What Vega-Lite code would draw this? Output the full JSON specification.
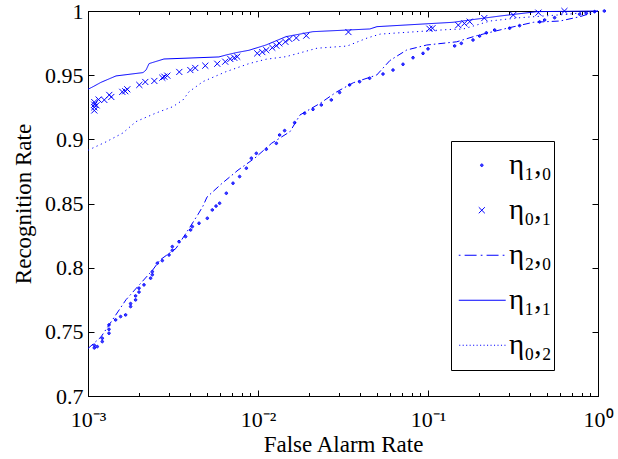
{
  "$schema": "https://vega.github.io/schema/vega-lite/v6.json",
  "width": 510,
  "height": 385,
  "autosize": {"type": "none"},
  "padding": {"left": 88, "top": 11, "right": 20, "bottom": 63},
  "background": "white",
  "config": {
    "view": {"stroke": "black", "strokeWidth": 1},
    "font": "Liberation Serif, Times New Roman, Times, serif",
    "axis": {"grid": false, "domainColor": "black", "tickColor": "black", "labelColor": "black", "titleColor": "black", "labelFont": "Liberation Serif, Times New Roman, Times, serif", "titleFont": "Liberation Serif, Times New Roman, Times, serif", "titleFontWeight": "normal", "domainWidth": 1, "tickWidth": 1},
    "legend": {"labelFont": "Liberation Serif, Times New Roman, Times, serif"}
  },
  "datasets": {
    "pts": [
      {"s": "η₀,₁", "x": 0.001, "y": 0.9225},
      {"s": "η₀,₁", "x": 0.001, "y": 0.925},
      {"s": "η₀,₁", "x": 0.001, "y": 0.927},
      {"s": "η₀,₁", "x": 0.001, "y": 0.929},
      {"s": "η₀,₁", "x": 0.00103, "y": 0.9265},
      {"s": "η₀,₁", "x": 0.00106, "y": 0.931},
      {"s": "η₀,₁", "x": 0.001145, "y": 0.9307},
      {"s": "η₀,₁", "x": 0.001225, "y": 0.9346},
      {"s": "η₀,₁", "x": 0.001259, "y": 0.933},
      {"s": "η₀,₁", "x": 0.001461, "y": 0.937},
      {"s": "η₀,₁", "x": 0.001521, "y": 0.9375},
      {"s": "η₀,₁", "x": 0.001563, "y": 0.939},
      {"s": "η₀,₁", "x": 0.00184, "y": 0.9424},
      {"s": "η₀,₁", "x": 0.001995, "y": 0.9447},
      {"s": "η₀,₁", "x": 0.002255, "y": 0.9455},
      {"s": "η₀,₁", "x": 0.002512, "y": 0.948},
      {"s": "η₀,₁", "x": 0.002582, "y": 0.9488},
      {"s": "η₀,₁", "x": 0.002689, "y": 0.9496},
      {"s": "η₀,₁", "x": 0.003162, "y": 0.9525},
      {"s": "η₀,₁", "x": 0.003672, "y": 0.954},
      {"s": "η₀,₁", "x": 0.003925, "y": 0.9556},
      {"s": "η₀,₁", "x": 0.004497, "y": 0.9574},
      {"s": "η₀,₁", "x": 0.005288, "y": 0.9589},
      {"s": "η₀,₁", "x": 0.00589, "y": 0.9605},
      {"s": "η₀,₁", "x": 0.00631, "y": 0.9626},
      {"s": "η₀,₁", "x": 0.00666, "y": 0.9635},
      {"s": "η₀,₁", "x": 0.00693, "y": 0.9644},
      {"s": "η₀,₁", "x": 0.00909, "y": 0.967},
      {"s": "η₀,₁", "x": 0.00973, "y": 0.968},
      {"s": "η₀,₁", "x": 0.01027, "y": 0.9695},
      {"s": "η₀,₁", "x": 0.01114, "y": 0.9714},
      {"s": "η₀,₁", "x": 0.01177, "y": 0.973},
      {"s": "η₀,₁", "x": 0.01225, "y": 0.9748},
      {"s": "η₀,₁", "x": 0.0133, "y": 0.976},
      {"s": "η₀,₁", "x": 0.01404, "y": 0.9782},
      {"s": "η₀,₁", "x": 0.01543, "y": 0.979},
      {"s": "η₀,₁", "x": 0.01766, "y": 0.9808},
      {"s": "η₀,₁", "x": 0.03124, "y": 0.9836},
      {"s": "η₀,₁", "x": 0.09357, "y": 0.9862},
      {"s": "η₀,₁", "x": 0.09757, "y": 0.9866},
      {"s": "η₀,₁", "x": 0.1384, "y": 0.989},
      {"s": "η₀,₁", "x": 0.1503, "y": 0.9903},
      {"s": "η₀,₁", "x": 0.1615, "y": 0.9917},
      {"s": "η₀,₁", "x": 0.1968, "y": 0.9945},
      {"s": "η₀,₁", "x": 0.2915, "y": 0.9969},
      {"s": "η₀,₁", "x": 0.4096, "y": 0.9987},
      {"s": "η₀,₁", "x": 0.5827, "y": 1.0},
      {"s": "η₁,₀", "x": 0.001, "y": 0.7375},
      {"s": "η₁,₀", "x": 0.001, "y": 0.7395},
      {"s": "η₁,₀", "x": 0.001041, "y": 0.7385},
      {"s": "η₁,₀", "x": 0.001114, "y": 0.7424},
      {"s": "η₁,₀", "x": 0.001114, "y": 0.745},
      {"s": "η₁,₀", "x": 0.00122, "y": 0.7489},
      {"s": "η₁,₀", "x": 0.00122, "y": 0.752},
      {"s": "η₁,₀", "x": 0.00122, "y": 0.7554},
      {"s": "η₁,₀", "x": 0.001335, "y": 0.7593},
      {"s": "η₁,₀", "x": 0.001428, "y": 0.7619},
      {"s": "η₁,₀", "x": 0.001528, "y": 0.7632},
      {"s": "η₁,₀", "x": 0.001635, "y": 0.7697},
      {"s": "η₁,₀", "x": 0.001635, "y": 0.772},
      {"s": "η₁,₀", "x": 0.001749, "y": 0.7749},
      {"s": "η₁,₀", "x": 0.001749, "y": 0.778},
      {"s": "η₁,₀", "x": 0.001832, "y": 0.781},
      {"s": "η₁,₀", "x": 0.001832, "y": 0.784},
      {"s": "η₁,₀", "x": 0.00196, "y": 0.7866},
      {"s": "η₁,₀", "x": 0.002144, "y": 0.7918},
      {"s": "η₁,₀", "x": 0.002194, "y": 0.7945},
      {"s": "η₁,₀", "x": 0.002194, "y": 0.7969},
      {"s": "η₁,₀", "x": 0.002348, "y": 0.8035},
      {"s": "η₁,₀", "x": 0.002512, "y": 0.8055},
      {"s": "η₁,₀", "x": 0.002751, "y": 0.8099},
      {"s": "η₁,₀", "x": 0.002877, "y": 0.8135},
      {"s": "η₁,₀", "x": 0.002877, "y": 0.8164},
      {"s": "η₁,₀", "x": 0.003149, "y": 0.8203},
      {"s": "η₁,₀", "x": 0.003444, "y": 0.8242},
      {"s": "η₁,₀", "x": 0.003686, "y": 0.8294},
      {"s": "η₁,₀", "x": 0.003772, "y": 0.832},
      {"s": "η₁,₀", "x": 0.00413, "y": 0.8346},
      {"s": "η₁,₀", "x": 0.00462, "y": 0.8385},
      {"s": "η₁,₀", "x": 0.004944, "y": 0.845},
      {"s": "η₁,₀", "x": 0.0052, "y": 0.848},
      {"s": "η₁,₀", "x": 0.005459, "y": 0.8502},
      {"s": "η₁,₀", "x": 0.005977, "y": 0.858},
      {"s": "η₁,₀", "x": 0.006545, "y": 0.8658},
      {"s": "η₁,₀", "x": 0.007157, "y": 0.871},
      {"s": "η₁,₀", "x": 0.007839, "y": 0.8775},
      {"s": "η₁,₀", "x": 0.008387, "y": 0.8853},
      {"s": "η₁,₀", "x": 0.008974, "y": 0.8891},
      {"s": "η₁,₀", "x": 0.01027, "y": 0.8923},
      {"s": "η₁,₀", "x": 0.01177, "y": 0.8969},
      {"s": "η₁,₀", "x": 0.0123, "y": 0.9034},
      {"s": "η₁,₀", "x": 0.01317, "y": 0.9068},
      {"s": "η₁,₀", "x": 0.01508, "y": 0.913},
      {"s": "η₁,₀", "x": 0.01726, "y": 0.9203},
      {"s": "η₁,₀", "x": 0.01934, "y": 0.9234},
      {"s": "η₁,₀", "x": 0.02164, "y": 0.9268},
      {"s": "η₁,₀", "x": 0.02478, "y": 0.9307},
      {"s": "η₁,₀", "x": 0.02773, "y": 0.9365},
      {"s": "η₁,₀", "x": 0.03175, "y": 0.9424},
      {"s": "η₁,₀", "x": 0.03636, "y": 0.9449},
      {"s": "η₁,₀", "x": 0.04164, "y": 0.9476},
      {"s": "η₁,₀", "x": 0.04992, "y": 0.9509},
      {"s": "η₁,₀", "x": 0.05716, "y": 0.954},
      {"s": "η₁,₀", "x": 0.06545, "y": 0.9585},
      {"s": "η₁,₀", "x": 0.07495, "y": 0.9636},
      {"s": "η₁,₀", "x": 0.08582, "y": 0.967},
      {"s": "η₁,₀", "x": 0.09183, "y": 0.9705},
      {"s": "η₁,₀", "x": 0.1317, "y": 0.9728},
      {"s": "η₁,₀", "x": 0.1442, "y": 0.9748},
      {"s": "η₁,₀", "x": 0.1689, "y": 0.9774},
      {"s": "η₁,₀", "x": 0.1847, "y": 0.9805},
      {"s": "η₁,₀", "x": 0.2023, "y": 0.983},
      {"s": "η₁,₀", "x": 0.2263, "y": 0.9852},
      {"s": "η₁,₀", "x": 0.2773, "y": 0.9866},
      {"s": "η₁,₀", "x": 0.3175, "y": 0.9886},
      {"s": "η₁,₀", "x": 0.4164, "y": 0.9915},
      {"s": "η₁,₀", "x": 0.4455, "y": 0.993},
      {"s": "η₁,₀", "x": 0.5102, "y": 0.9948},
      {"s": "η₁,₀", "x": 0.7157, "y": 0.9975},
      {"s": "η₁,₀", "x": 0.7839, "y": 0.9982},
      {"s": "η₁,₀", "x": 0.8768, "y": 0.9995},
      {"s": "η₁,₀", "x": 1.0, "y": 1.0}
    ],
    "lns": [
      {"s": "η₂,₀", "x": 0.001, "y": 0.737},
      {"s": "η₂,₀", "x": 0.001192, "y": 0.746},
      {"s": "η₂,₀", "x": 0.001673, "y": 0.775},
      {"s": "η₂,₀", "x": 0.002003, "y": 0.7866},
      {"s": "η₂,₀", "x": 0.002402, "y": 0.7982},
      {"s": "η₂,₀", "x": 0.002652, "y": 0.806},
      {"s": "η₂,₀", "x": 0.003293, "y": 0.815},
      {"s": "η₂,₀", "x": 0.003823, "y": 0.828},
      {"s": "η₂,₀", "x": 0.004437, "y": 0.8415},
      {"s": "η₂,₀", "x": 0.004746, "y": 0.848},
      {"s": "η₂,₀", "x": 0.005012, "y": 0.855},
      {"s": "η₂,₀", "x": 0.006058, "y": 0.865},
      {"s": "η₂,₀", "x": 0.007628, "y": 0.876},
      {"s": "η₂,₀", "x": 0.009603, "y": 0.8855},
      {"s": "η₂,₀", "x": 0.01204, "y": 0.897},
      {"s": "η₂,₀", "x": 0.01543, "y": 0.906},
      {"s": "η₂,₀", "x": 0.01766, "y": 0.919},
      {"s": "η₂,₀", "x": 0.02316, "y": 0.928},
      {"s": "η₂,₀", "x": 0.02904, "y": 0.937},
      {"s": "η₂,₀", "x": 0.03636, "y": 0.9441},
      {"s": "η₂,₀", "x": 0.04992, "y": 0.9501},
      {"s": "η₂,₀", "x": 0.05977, "y": 0.9615},
      {"s": "η₂,₀", "x": 0.07495, "y": 0.9696},
      {"s": "η₂,₀", "x": 0.09826, "y": 0.9735},
      {"s": "η₂,₀", "x": 0.1475, "y": 0.976},
      {"s": "η₂,₀", "x": 0.1934, "y": 0.9808},
      {"s": "η₂,₀", "x": 0.2904, "y": 0.9865},
      {"s": "η₂,₀", "x": 0.4164, "y": 0.9912},
      {"s": "η₂,₀", "x": 0.5977, "y": 0.9922},
      {"s": "η₂,₀", "x": 0.7839, "y": 0.9956},
      {"s": "η₂,₀", "x": 1.0, "y": 1.0},
      {"s": "η₁,₁", "x": 0.001, "y": 0.939},
      {"s": "η₁,₁", "x": 0.00107, "y": 0.941},
      {"s": "η₁,₁", "x": 0.001192, "y": 0.9444},
      {"s": "η₁,₁", "x": 0.001461, "y": 0.9494},
      {"s": "η₁,₁", "x": 0.002107, "y": 0.952},
      {"s": "η₁,₁", "x": 0.002195, "y": 0.954},
      {"s": "η₁,₁", "x": 0.002286, "y": 0.959},
      {"s": "η₁,₁", "x": 0.002797, "y": 0.9626},
      {"s": "η₁,₁", "x": 0.00589, "y": 0.9642},
      {"s": "η₁,₁", "x": 0.00648, "y": 0.9657},
      {"s": "η₁,₁", "x": 0.00741, "y": 0.9675},
      {"s": "η₁,₁", "x": 0.00885, "y": 0.9694},
      {"s": "η₁,₁", "x": 0.01114, "y": 0.9735},
      {"s": "η₁,₁", "x": 0.01461, "y": 0.98},
      {"s": "η₁,₁", "x": 0.02105, "y": 0.9839},
      {"s": "η₁,₁", "x": 0.0455, "y": 0.986},
      {"s": "η₁,₁", "x": 0.0501, "y": 0.9878},
      {"s": "η₁,₁", "x": 0.1404, "y": 0.9912},
      {"s": "η₁,₁", "x": 0.1766, "y": 0.993},
      {"s": "η₁,₁", "x": 0.2655, "y": 0.9961},
      {"s": "η₁,₁", "x": 0.4377, "y": 0.9995},
      {"s": "η₁,₁", "x": 1.0, "y": 1.0},
      {"s": "η₀,₂", "x": 0.001, "y": 0.8915},
      {"s": "η₀,₂", "x": 0.001276, "y": 0.898},
      {"s": "η₀,₂", "x": 0.001606, "y": 0.905},
      {"s": "η₀,₂", "x": 0.001915, "y": 0.9138},
      {"s": "η₀,₂", "x": 0.002512, "y": 0.9205},
      {"s": "η₀,₂", "x": 0.003162, "y": 0.9255},
      {"s": "η₀,₂", "x": 0.00362, "y": 0.9307},
      {"s": "η₀,₂", "x": 0.003925, "y": 0.937},
      {"s": "η₀,₂", "x": 0.004746, "y": 0.945},
      {"s": "η₀,₂", "x": 0.00648, "y": 0.9527},
      {"s": "η₀,₂", "x": 0.00885, "y": 0.959},
      {"s": "η₀,₂", "x": 0.01114, "y": 0.9624},
      {"s": "η₀,₂", "x": 0.01461, "y": 0.9644},
      {"s": "η₀,₂", "x": 0.02224, "y": 0.971},
      {"s": "η₀,₂", "x": 0.03346, "y": 0.9727},
      {"s": "η₀,₂", "x": 0.04399, "y": 0.979},
      {"s": "η₀,₂", "x": 0.0523, "y": 0.982},
      {"s": "η₀,₂", "x": 0.1294, "y": 0.9855},
      {"s": "η₀,₂", "x": 0.1615, "y": 0.986},
      {"s": "η₀,₂", "x": 0.2316, "y": 0.9922},
      {"s": "η₀,₂", "x": 0.3485, "y": 0.9948},
      {"s": "η₀,₂", "x": 0.6573, "y": 0.9974},
      {"s": "η₀,₂", "x": 1.0, "y": 1.0}
    ]
  },
  "layer": [
    {
      "data": {"name": "lns"},
      "mark": {"type": "line", "color": "#0000ff", "strokeWidth": 1},
      "encoding": {
        "x": {
          "field": "x", "type": "quantitative",
          "scale": {"type": "log", "domain": [0.001, 1]},
          "axis": {
            "orient": "bottom",
            "values": [0.001, 0.002, 0.003, 0.004, 0.005, 0.006, 0.007, 0.008, 0.009, 0.01, 0.02, 0.03, 0.04, 0.05, 0.06, 0.07, 0.08, 0.09, 0.1, 0.2, 0.3, 0.4, 0.5, 0.6, 0.7, 0.8, 0.9, 1],
            "labelExpr": "datum.value == 0.001 ? '10⁻³' : datum.value == 0.01 ? '10⁻²' : datum.value == 0.1 ? '10⁻¹' : datum.value == 1 ? '10⁰' : ''",
            "labelOverlap": false,
            "labelFlush": false,
            "labelFontSize": 22,
            "labelPadding": 19,
            "tickSize": {"condition": {"test": "datum.value == 0.001 || datum.value == 0.01 || datum.value == 0.1 || datum.value == 1", "value": -6}, "value": -3.5},
            "title": "False Alarm Rate",
            "titleFontSize": 23,
            "titlePadding": 1
          }
        },
        "y": {
          "field": "y", "type": "quantitative",
          "scale": {"domain": [0.7, 1]},
          "axis": {
            "orient": "left",
            "values": [0.7, 0.75, 0.8, 0.85, 0.9, 0.95, 1],
            "format": "~g",
            "labelFontSize": 22,
            "labelPadding": 11,
            "tickSize": -6,
            "labelOverlap": false,
            "labelFlush": false,
            "title": "Recognition Rate",
            "titleFontSize": 23,
            "titlePadding": 9
          }
        },
        "strokeDash": {
          "field": "s", "type": "nominal",
          "scale": {"domain": ["η₂,₀", "η₁,₁", "η₀,₂"], "range": [[7, 3, 1.5, 3], [1, 0], [1.2, 3.5]]},
          "legend": null
        }
      }
    },
    {
      "data": {"name": "pts"},
      "mark": {"type": "point", "color": "#0000ff", "filled": false, "size": 1892, "strokeWidth": 1, "opacity": 1},
      "encoding": {
        "x": {
          "field": "x", "type": "quantitative",
          "scale": {"type": "log", "domain": [0.001, 1]},
          "axis": {
            "orient": "top",
            "values": [0.001, 0.002, 0.003, 0.004, 0.005, 0.006, 0.007, 0.008, 0.009, 0.01, 0.02, 0.03, 0.04, 0.05, 0.06, 0.07, 0.08, 0.09, 0.1, 0.2, 0.3, 0.4, 0.5, 0.6, 0.7, 0.8, 0.9, 1],
            "labels": false,
            "tickSize": {"condition": {"test": "datum.value == 0.001 || datum.value == 0.01 || datum.value == 0.1 || datum.value == 1", "value": -6}, "value": -3.5},
            "title": null
          }
        },
        "y": {
          "field": "y", "type": "quantitative",
          "scale": {"domain": [0.7, 1]},
          "axis": {
            "orient": "right",
            "values": [0.7, 0.75, 0.8, 0.85, 0.9, 0.95, 1],
            "labels": false,
            "tickSize": -6,
            "title": null
          }
        },
        "shape": {
          "field": "s", "type": "nominal",
          "scale": {
            "domain": ["η₁,₀", "η₀,₁", "η₂,₀", "η₁,₁", "η₀,₂"],
            "range": [
              "M0.35,0A0.06,0.06,0,1,1,0.23,0A0.06,0.06,0,1,1,0.35,0ZM0.315,0A0.025,0.025,0,1,1,0.265,0A0.025,0.025,0,1,1,0.315,0Z",
              "M0.15,-0.14L0.43,0.14M0.15,0.14L0.43,-0.14",
              "M-0.77,0H-0.69M-0.5,0H0.05M0.24,0H0.32M0.51,0H1.06M1.25,0H1.33",
              "M-0.77,0H1.39",
              "M-0.75,0h0.05M-0.59,0h0.05M-0.43,0h0.05M-0.27,0h0.05M-0.11,0h0.05M0.05,0h0.05M0.21,0h0.05M0.37,0h0.05M0.53,0h0.05M0.69,0h0.05M0.85,0h0.05M1.01,0h0.05M1.17,0h0.05M1.33,0h0.05"
            ]
          },
          "legend": {
            "orient": "none",
            "legendX": 363,
            "legendY": 130,
            "title": null,
            "padding": 2,
            "fillColor": "white",
            "strokeColor": "black",
            "labelFont": "Liberation Serif, Times New Roman, Times, serif",
            "labelFontSize": 29,
            "labelColor": "black",
            "labelOffset": 11,
            "symbolSize": 1892,
            "symbolStrokeWidth": 1,
            "symbolStrokeColor": "#0000ff",
            "clipHeight": 44.5,
            "gridAlign": "all",
            "columns": 1,
            "rowPadding": 0
          }
        }
      }
    }
  ],
  "resolve": {"axis": {"x": "independent", "y": "independent"}}
}
